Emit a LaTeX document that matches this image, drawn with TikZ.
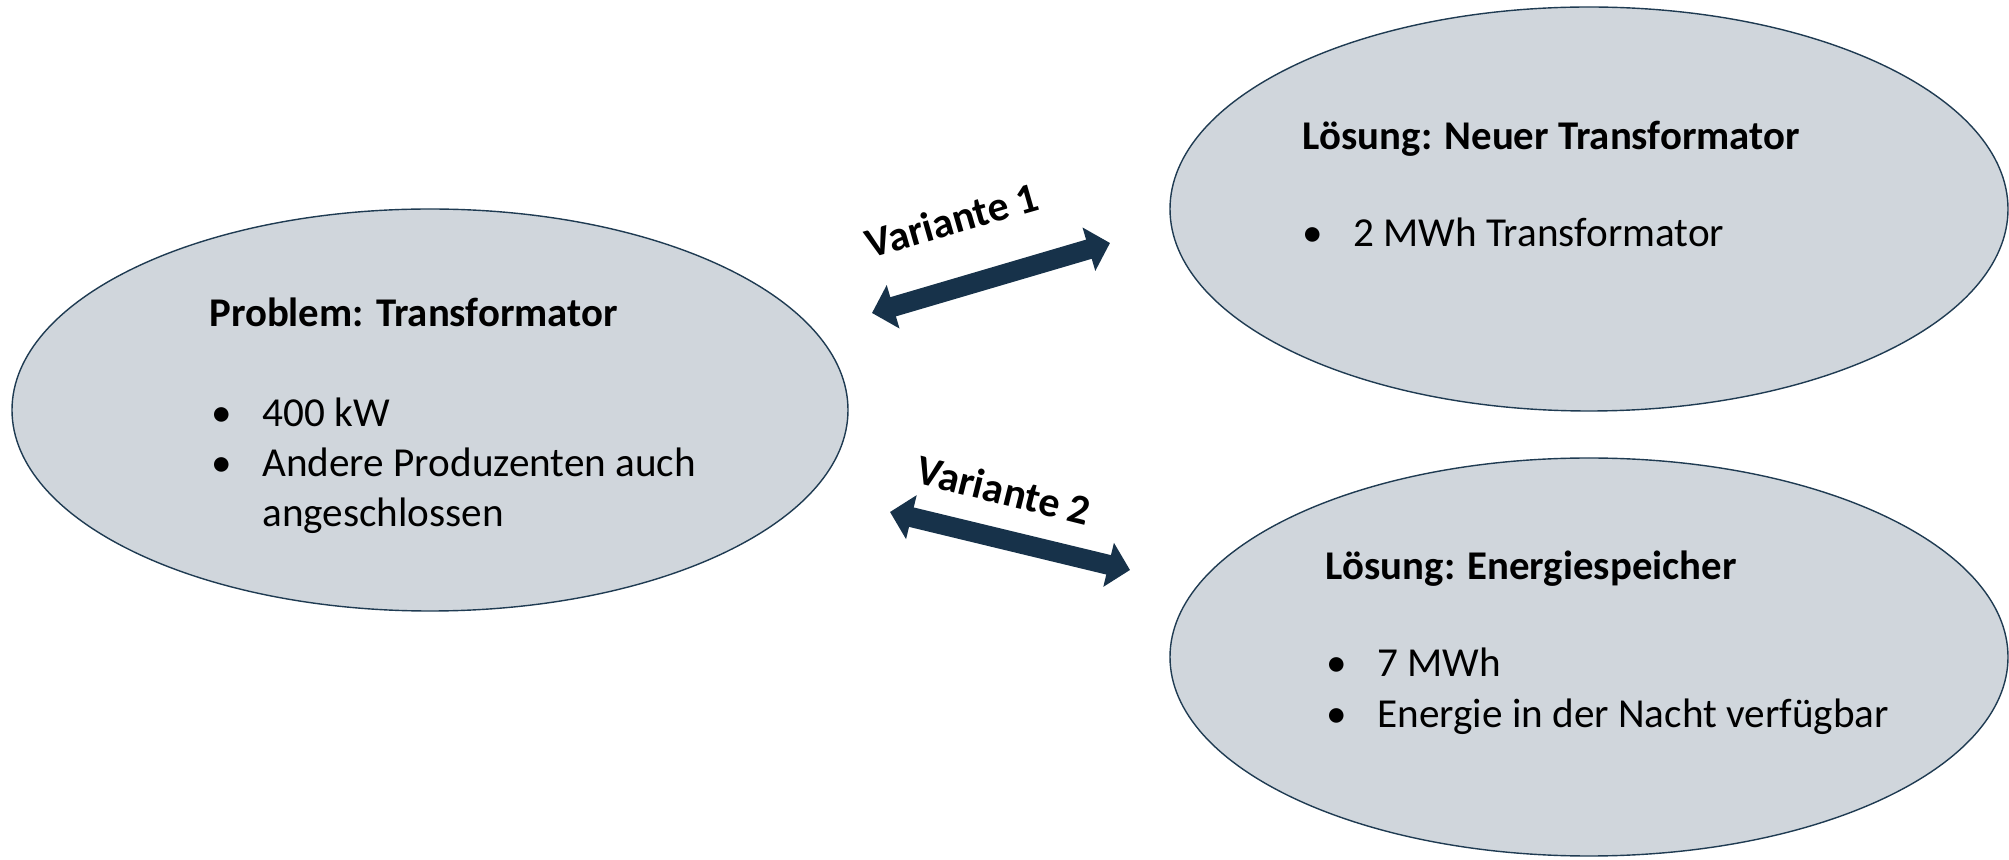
\documentclass[tikz,border=0pt]{standalone}
\usepackage{fontspec}
\setmainfont{Carlito}
\usetikzlibrary{shapes.geometric, arrows.meta, positioning}
\definecolor{bubblefill}{HTML}{D0D6DC}
\definecolor{bubbleline}{HTML}{1F3B52}
\definecolor{arrowblue}{HTML}{17324A}
\tikzstyle{bubble} = [ellipse,
			draw = bubbleline,
			fill = bubblefill,
			line width = 0.7pt,
			inner sep = 0pt]
\tikzstyle{heading} = [anchor = base west,
			inner sep = 0pt,
			font = \fontsize{20.4}{25}\selectfont\bfseries]
\tikzstyle{items} = [anchor = base west,
			inner sep = 0pt,
			font = \fontsize{20.6}{25}\selectfont]
\tikzstyle{link} = [draw = arrowblue, line width = 10pt,
			{Triangle[width=22pt,length=11pt]}-{Triangle[width=22pt,length=11pt]}]
\tikzstyle{tag} = [inner sep = 0pt, font = \fontsize{21}{24}\selectfont\bfseries]
\newcommand{\bulletrows}[1]{\begin{tabular}[t]{@{}p{25.5pt}@{}l@{}}#1\end{tabular}}

\begin{document}
\begin{tikzpicture}[x = 0.5pt, y = -0.5pt]
	\useasboundingbox (0,0) rectangle (2009,860);
	% the three ellipses
	\node [bubble, minimum width = 418pt, minimum height = 201pt] (problem) at (430,410) {};
	\node [bubble, minimum width = 419pt, minimum height = 202pt] (trafo) at (1589,209) {};
	\node [bubble, minimum width = 419pt, minimum height = 199pt] (speicher) at (1589,657) {};
	% texts
	\node [heading] (problemTitle) at (209,327) {Problem: Transformator};
	\node [items] (problemList) at (211,427) {\bulletrows{\textbullet & 400 kW\\ \textbullet & Andere Produzenten auch\\ & angeschlossen}};
	\node [heading] (trafoTitle) at (1302,150) {Lösung: Neuer Transformator};
	\node [items] (trafoList) at (1302,247) {\bulletrows{\textbullet & 2 MWh Transformator}};
	\node [heading] (speicherTitle) at (1325,580) {Lösung: Energiespeicher};
	\node [items] (speicherList) at (1326,677) {\bulletrows{\textbullet & 7 MWh\\ \textbullet & Energie in der Nacht verfügbar}};
	% arrows
	\coordinate (v1a) at (872,313);
	\coordinate (v1b) at (1110,243);
	\coordinate (v2a) at (890,512);
	\coordinate (v2b) at (1130,570);
	\path [link] (v1a) -- (v1b);
	\path [link] (v2a) -- (v2b);
	\node [tag, rotate = 16] (v1) at (952,220) {Variante 1};
	\node [tag, rotate = -14] (v2) at (1004,490) {Variante 2};
\end{tikzpicture}
\end{document}
